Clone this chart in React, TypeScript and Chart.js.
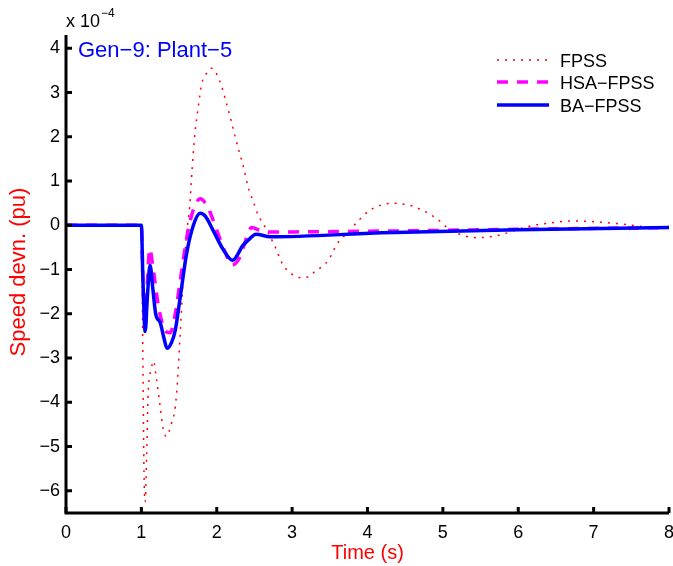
import React, { useEffect, useRef } from "react";
import { Chart, registerables } from "chart.js";

Chart.register(...registerables);

// Values in units of 1e-4 pu
const fpssT = [0, 1.0, 1.02, 1.035, 1.05, 1.07, 1.09, 1.13, 1.16, 1.2, 1.245, 1.29, 1.33, 1.4, 1.45, 1.48, 1.51, 1.556, 1.6, 1.64, 1.675, 1.71, 1.755, 1.8, 1.86, 1.93, 2.007, 2.07, 2.13, 2.19, 2.245, 2.3, 2.36, 2.41, 2.48, 2.55, 2.63, 2.77, 2.88, 2.99, 3.1, 3.21, 3.3, 3.39, 3.48, 3.6, 3.77, 3.86, 4.03, 4.34, 4.56, 4.73, 4.92, 5.05, 5.22, 5.45, 5.67, 5.8, 5.98, 6.2, 6.42, 6.72, 7.3, 7.74, 8.0];
const fpssV = [0, 0, -3.0, -5.6, -6.25, -5.2, -3.8, -3.26, -3.07, -3.47, -4.04, -4.6, -4.77, -4.47, -4.1, -3.5, -2.6, -1.2, -0.18, 0.41, 1.31, 2.07, 2.67, 3.19, 3.42, 3.55, 3.39, 3.11, 2.75, 2.37, 2.0, 1.65, 1.28, 0.9, 0.56, 0.23, 0.0, -0.47, -0.9, -1.09, -1.18, -1.17, -1.05, -0.94, -0.79, -0.41, -0.11, 0.07, 0.34, 0.5, 0.45, 0.34, 0.15, -0.04, -0.2, -0.28, -0.25, -0.2, -0.1, 0.0, 0.05, 0.1, 0.04, -0.04, -0.05];

const hsaT = [0, 1.0, 1.02, 1.05, 1.08, 1.11, 1.15, 1.22, 1.31, 1.38, 1.45, 1.51, 1.62, 1.7, 1.78, 1.85, 1.91, 2.0, 2.11, 2.2, 2.31, 2.4, 2.46, 2.57, 2.66, 4.2, 6.0, 8.0];
const hsaV = [0, 0, -1.2, -2.3, -1.3, -0.53, -0.9, -1.76, -2.37, -2.43, -2.0, -1.31, -0.11, 0.4, 0.6, 0.5, 0.3, -0.11, -0.6, -0.9, -0.71, -0.26, -0.05, -0.11, -0.15, -0.13, -0.09, -0.05];

const baT = [0, 1.0, 1.02, 1.05, 1.08, 1.115, 1.15, 1.19, 1.25, 1.3, 1.34, 1.4, 1.45, 1.51, 1.6, 1.69, 1.78, 1.85, 1.95, 2.09, 2.21, 2.35, 2.44, 2.52, 2.71, 4.2, 6.0, 8.0];
const baV = [0, 0, -1.2, -2.4, -1.6, -0.9, -1.4, -2.0, -2.2, -2.55, -2.78, -2.65, -2.37, -1.69, -0.64, 0.0, 0.27, 0.2, -0.11, -0.56, -0.79, -0.45, -0.3, -0.2, -0.26, -0.17, -0.1, -0.05];

const xTicks = [0, 1, 2, 3, 4, 5, 6, 7, 8];
const yTicks = [-6, -5, -4, -3, -2, -1, 0, 1, 2, 3, 4];

const seriesNames = ["FPSS", "HSA\u2212FPSS", "BA\u2212FPSS"];
const FONT = '"Liberation Sans", Arial, Helvetica, sans-serif';

const fmt = (v: number) => (v < 0 ? "\u2212" + Math.abs(v) : String(v));

const overlay = {
  id: "overlay",
  afterDraw(chart: any) {
    const { ctx, chartArea } = chart;
    const xs = chart.scales.x;
    const ys = chart.scales.y;
    ctx.save();
    ctx.setLineDash([]);
    ctx.strokeStyle = "#000";
    ctx.lineWidth = 3;
    ctx.beginPath();
    ctx.moveTo(chartArea.left, chartArea.top);
    ctx.lineTo(chartArea.left, chartArea.bottom);
    ctx.lineTo(chartArea.right, chartArea.bottom);
    ctx.stroke();
    ctx.beginPath();
    xTicks.forEach((t) => {
      const px = xs.getPixelForValue(t);
      ctx.moveTo(px, chartArea.bottom);
      ctx.lineTo(px, chartArea.bottom - 6);
    });
    yTicks.forEach((t) => {
      const py = ys.getPixelForValue(t);
      ctx.moveTo(chartArea.left, py);
      ctx.lineTo(chartArea.left + 6, py);
    });
    ctx.stroke();

    // exponent
    ctx.fillStyle = "#000";
    ctx.textAlign = "left";
    ctx.textBaseline = "alphabetic";
    ctx.font = `18px ${FONT}`;
    ctx.fillText("x 10", chartArea.left, 27);
    ctx.font = `12px ${FONT}`;
    ctx.fillText("\u22124", chartArea.left + 35, 17);

    // annotation
    ctx.fillStyle = "#0000ff";
    ctx.font = `22px ${FONT}`;
    ctx.fillText("Gen\u22129: Plant\u22125", 78, 57);

    // legend
    const ds = chart.data.datasets;
    const rows = [60, 82, 105];
    ds.forEach((d: any) => {
      const idx = seriesNames.indexOf(d.label);
      const yy = rows[idx];
      ctx.strokeStyle = d.borderColor;
      ctx.lineWidth = d.borderWidth;
      ctx.setLineDash(d.borderDash || []);
      ctx.beginPath();
      ctx.moveTo(497, yy);
      ctx.lineTo(549, yy);
      ctx.stroke();
      ctx.setLineDash([]);
      ctx.fillStyle = "#000";
      ctx.font = `18px ${FONT}`;
      ctx.fillText(d.label, 560, yy + 6.5);
    });

    // axis titles
    ctx.fillStyle = "#ff0000";
    ctx.textAlign = "center";
    ctx.font = `20px ${FONT}`;
    ctx.fillText("Time (s)", (chartArea.left + chartArea.right) / 2, 559);
    ctx.font = `22px ${FONT}`;
    ctx.translate(25, 272);
    ctx.rotate(-Math.PI / 2);
    ctx.fillText("Speed devn. (pu)", 0, 0);
    ctx.restore();
  },
};

export default function App() {
  const ref = useRef<HTMLCanvasElement>(null);
  useEffect(() => {
    if (!ref.current) return;
    const pts = (ts: number[], vs: number[]) => ts.map((t, i) => ({ x: t, y: vs[i] }));
    const chart = new Chart(ref.current, {
      type: "line",
      data: {
        datasets: [
          {
            label: seriesNames[2],
            data: pts(baT, baV),
            borderColor: "#0000ff",
            borderWidth: 3.5,
            order: 1,
          },
          {
            label: seriesNames[1],
            data: pts(hsaT, hsaV),
            borderColor: "#ff00ff",
            borderWidth: 3.5,
            borderDash: [11, 9],
            order: 2,
          },
          {
            label: seriesNames[0],
            data: pts(fpssT, fpssV),
            borderColor: "#ff0000",
            borderWidth: 1.5,
            borderDash: [2, 6],
            order: 3,
          },
        ] as any,
      },
      options: {
        animation: false,
        responsive: false,
        devicePixelRatio: 1,
        layout: { padding: { top: 35, right: 4, left: 0, bottom: 0 } },
        elements: {
          point: { radius: 0 },
          line: { cubicInterpolationMode: "monotone", fill: false },
        },
        plugins: { legend: { display: false }, tooltip: { enabled: false } },
        scales: {
          x: {
            type: "linear",
            min: 0,
            max: 8,
            afterFit: (s: any) => {
              s.height = 53;
              s.paddingLeft = 0;
              s.paddingRight = 0;
            },
            afterBuildTicks: (s: any) => {
              s.ticks = xTicks.map((v) => ({ value: v }));
            },
            grid: { display: true, drawOnChartArea: false, drawTicks: false },
            border: { display: false },
            ticks: {
              padding: 9,
              color: "#000",
              font: { family: FONT, size: 18 },
              callback: (v: any) => fmt(Number(v)),
              maxRotation: 0,
            },
          },
          y: {
            type: "linear",
            min: -6.5,
            max: 4.3,
            afterFit: (s: any) => {
              s.width = 66;
              s.paddingTop = 0;
              s.paddingBottom = 0;
            },
            afterBuildTicks: (s: any) => {
              s.ticks = yTicks.map((v) => ({ value: v }));
            },
            grid: { display: true, drawOnChartArea: false, drawTicks: false },
            border: { display: false },
            ticks: {
              padding: 6,
              color: "#000",
              font: { family: FONT, size: 18 },
              callback: (v: any) => fmt(Number(v)),
            },
          },
        },
      },
      plugins: [overlay],
    });
    return () => chart.destroy();
  }, []);
  return (
    <div style={{ position: "absolute", left: 0, top: 0, width: 673, height: 566, background: "#fff" }}>
      <canvas ref={ref} width={673} height={566} style={{ width: 673, height: 566, display: "block" }} />
    </div>
  );
}
